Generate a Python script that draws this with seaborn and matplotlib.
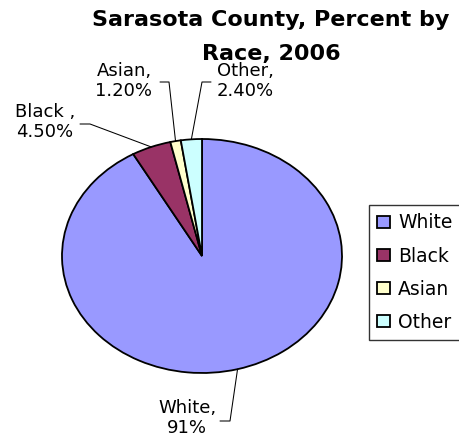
import numpy as np
import matplotlib
matplotlib.use("Agg")
import matplotlib.pyplot as plt
from matplotlib.lines import Line2D
import seaborn as sns

# ---- data ----
categories = ["White", "Black", "Asian", "Other"]
values = [91.0, 4.5, 1.2, 2.4]
label_texts = ["White,\n91%", "Black ,\n4.50%", "Asian,\n1.20%", "Other,\n2.40%"]
colors = ["#9999FF", "#993366", "#FFFFCC", "#CCFFFF"]
title = "Sarasota County, Percent by\nRace, 2006"

sns.set_theme(style="white")
plt.rcParams["font.family"] = ["DejaVu Sans"]

W, H = 460, 443
fig = plt.figure(figsize=(W / 100, H / 100), dpi=100)
fig.patch.set_facecolor("white")


def fx(x):
    return x / W


def fy(y):
    return 1 - y / H


ax = fig.add_axes([fx(62), fy(373), 280 / W, 234 / H])
wedges, _ = ax.pie(values, colors=colors, startangle=90, counterclock=False,
                   wedgeprops=dict(edgecolor="black", linewidth=1.3, clip_on=False))
ax.set_aspect("auto")
ax.set_xlim(-1, 1)
ax.set_ylim(-1, 1)
ax.axis("off")

# label layout (pixel positions of text centre and leader elbow)
label_layout = {
    "White": dict(text=(187, 418), elbow=[(220, 421), (230, 421)]),
    "Black": dict(text=(45, 122), elbow=[(80, 124), (90, 124)]),
    "Asian": dict(text=(124, 81), elbow=[(160, 82), (169, 82)]),
    "Other": dict(text=(245, 81), elbow=[(211, 82), (202, 82)]),
}

to_fig = fig.transFigure.inverted()
for w, cat, txt in zip(wedges, categories, label_texts):
    lay = label_layout[cat]
    fig.text(fx(lay["text"][0]), fy(lay["text"][1]), txt, ha="center", va="center",
             multialignment="center", fontsize=13, linespacing=1.2, color="black")
    mid = np.deg2rad((w.theta1 + w.theta2) / 2)
    edge_disp = ax.transData.transform((np.cos(mid), np.sin(mid)))
    ex, ey = to_fig.transform(edge_disp)
    xs = [fx(p[0]) for p in lay["elbow"]] + [ex]
    ys = [fy(p[1]) for p in lay["elbow"]] + [ey]
    fig.add_artist(Line2D(xs, ys, transform=fig.transFigure, color="black", linewidth=0.75))

fig.text(fx(271), fy(10), title, ha="center", va="top", fontsize=16,
         fontweight="bold", linespacing=1.85, color="black")

leg = fig.legend(wedges, categories, loc="upper left", bbox_to_anchor=(fx(369), fy(205)),
                 frameon=True, fancybox=False, edgecolor="black", fontsize=13.5,
                 handlelength=0.65, handleheight=0.6, handletextpad=0.45,
                 labelspacing=0.75, borderpad=0.45, borderaxespad=0)
leg.get_frame().set_linewidth(1.0)
for t in leg.get_texts():
    t.set_color("black")

fig.savefig("out.png", dpi=100)
